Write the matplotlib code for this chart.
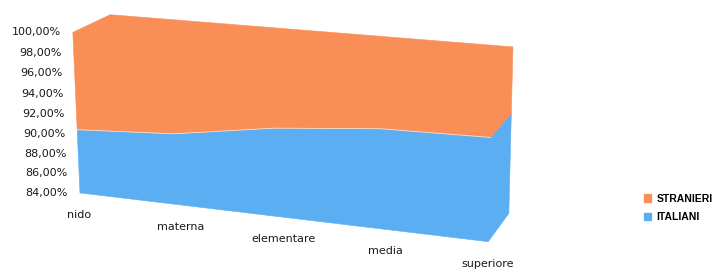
import numpy as np
import matplotlib
matplotlib.use('Agg')
from matplotlib import pyplot as plt
from matplotlib.patches import Patch

categories = ['nido', 'materna', 'elementare', 'media', 'superiore']
italiani = [90.4, 91.0, 92.55, 93.5, 93.7]   # % ITALIANI (STRANIERI fill the rest up to 100%)
yticks = [84, 86, 88, 90, 92, 94, 96, 98, 100]
ymin, ymax = 84., 100.

col_str = '#F98E57'
col_ita = '#5CAEF3'

# camera fitted on the box corners seen in the picture (X=category, Y=0..1, Z=0 front / 1 back)
box3 = np.array([(0,1,0),(0,0,0),(4,0,0),(0,1,1),(4,1,1),(4,0,1)], float)
box2 = np.array([(73,32),(80,193),(488,242),(110,15),(513,47),(509,213)], float)
A = []
for (X,Y,Z),(u,v) in zip(box3, box2):
    A.append([X,Y,Z,1,0,0,0,0,-u*X,-u*Y,-u*Z,-u])
    A.append([0,0,0,0,X,Y,Z,1,-v*X,-v*Y,-v*Z,-v])
P = np.linalg.svd(np.array(A))[2][-1].reshape(3,4)

def proj(X, Y, Z):
    X, Y, Z = np.broadcast_arrays(np.asarray(X,float), np.asarray(Y,float), np.asarray(Z,float))
    h = P @ np.vstack([X.ravel(), Y.ravel(), Z.ravel(), np.ones(X.size)])
    return h[0]/h[2], h[1]/h[2]

def norm(v):
    return (np.asarray(v, float) - ymin)/(ymax - ymin)

fig = plt.figure(figsize=(7.16,2.69), dpi=100)
ax = fig.add_axes([0,0,1,1])
ax.set_xlim(0,716)
ax.set_ylim(269,0)
ax.axis('off')

xs = np.arange(len(categories))
yb = norm(italiani)
n = len(categories)-1

# ITALIANI: front face + right side, as one outline
X = np.r_[0, n, n, n, xs[::-1]]
Y = np.r_[0, 0, 0, yb[-1], yb[::-1]]
Z = np.r_[0, 0, 1, 1, np.zeros(n+1)]
u, v = proj(X, Y, Z)
ax.fill(u, v, facecolor=col_ita, edgecolor=col_ita, lw=0.4, zorder=2)

# STRANIERI: front face + right side + top, as one outline
X = np.r_[xs, n, n, 0, 0]
Y = np.r_[yb, yb[-1], 1, 1, 1]
Z = np.r_[np.zeros(n+1), 1, 1, 1, 0]
u, v = proj(X, Y, Z)
ax.fill(u, v, facecolor=col_str, edgecolor=col_str, lw=0.4, zorder=2)

u, v = proj(xs, yb, 0)
ax.plot(u, v, color='#EDE3D6', lw=0.6, zorder=3)

# value axis
for t in yticks:
    u, v = proj(0, norm(t), 0)
    ax.text(u[0]-12, v[0], ('%.2f%%' % t).replace('.', ','), ha='right', va='center',
            fontsize=8, family='DejaVu Sans', color='#1a1a1a')

# category labels, spread evenly along the front bottom edge
u0, v0 = proj(0, 0, 0)
u1, v1 = proj(n, 0, 0)
for i, c in enumerate(categories):
    f = i/n
    ax.text(u0[0] + f*(u1[0]-u0[0]) - 1, v0[0] + f*(v1[0]-v0[0]) + 22, c,
            ha='center', va='center', fontsize=8, family='DejaVu Sans', color='#1a1a1a')

handles = [Patch(color=col_str, label='STRANIERI'), Patch(color=col_ita, label='ITALIANI')]
ax.legend(handles=handles, loc='center left', bbox_to_anchor=(0.886, 0.227), frameon=False,
          handlelength=0.7, handleheight=0.7, handletextpad=0.5, labelspacing=0.85,
          prop={'size': 7.5, 'family': 'Liberation Sans', 'weight': 'bold'})

fig.savefig('out.png', dpi=100)
